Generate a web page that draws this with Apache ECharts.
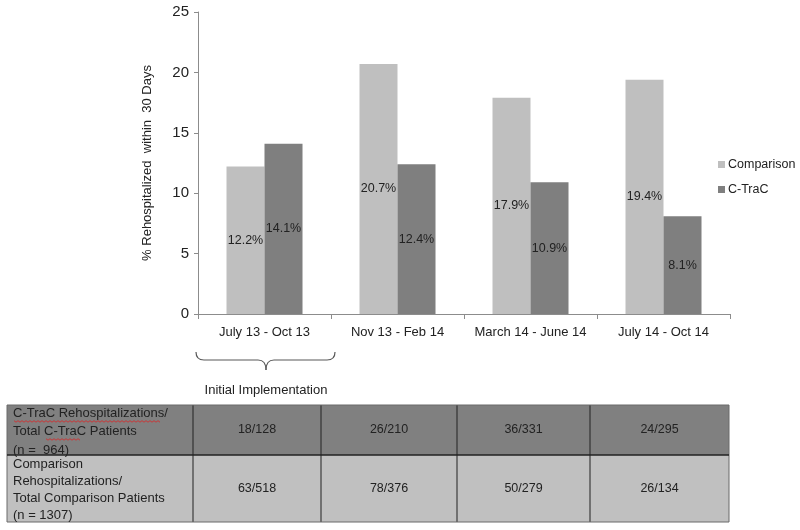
<!DOCTYPE html>
<html><head><meta charset="utf-8">
<script src="https://cdn.jsdelivr.net/npm/echarts@6/dist/echarts.min.js"></script>
<style>html,body{margin:0;padding:0;background:#fff}#c{width:800px;height:530px}</style>
</head><body><div id="c"></div>
<script>
var categories = ['July 13 - Oct 13', 'Nov 13 - Feb 14', 'March 14 - June 14', 'July 14 - Oct 14'];
var comparison = [12.2, 20.7, 17.9, 19.4];
var ctrac = [14.1, 12.4, 10.9, 8.1];
var yTicks = [0, 5, 10, 15, 20, 25];
var tableRowHeaders = ['C-TraC Rehospitalizations/\nTotal C-TraC Patients\n(n =  964)',
  'Comparison\nRehospitalizations/\nTotal Comparison Patients\n(n = 1307)'];
var ctracCounts = ['18/128', '26/210', '36/331', '24/295'];
var comparisonCounts = ['63/518', '78/376', '50/279', '26/134'];

var FONT = 'Liberation Sans, Arial, sans-serif';
var chart = echarts.init(document.getElementById('c'), null, {renderer: 'canvas'});

var colX = [7, 193, 321, 457, 590, 729];
var rowY = [405, 455, 522];
var rowFill = ['#808080', '#c0c0c0'];
var graphics = [];
for (var r = 0; r < 2; r++) {
  graphics.push({type: 'rect', shape: {x: colX[0], y: rowY[r], width: colX[5] - colX[0], height: rowY[r + 1] - rowY[r]},
    style: {fill: rowFill[r], stroke: 'none'}, silent: true});
}
for (var i = 0; i < colX.length; i++) {
  graphics.push({type: 'line', shape: {x1: colX[i], y1: rowY[0], x2: colX[i], y2: rowY[2]},
    style: {stroke: (i === 0 || i === 5) ? '#6a6a6a' : '#222', lineWidth: 1}, silent: true});
}
for (var j = 0; j < rowY.length; j++) {
  graphics.push({type: 'line', shape: {x1: colX[0], y1: rowY[j], x2: colX[5], y2: rowY[j]},
    style: {stroke: j === 1 ? '#222' : '#6a6a6a', lineWidth: j === 1 ? 1.5 : 1}, silent: true});
}
graphics.push({type: 'text', x: 13, y: 404, style: {text: tableRowHeaders[0], font: '13px ' + FONT, fill: '#222', lineHeight: 18.5, verticalAlign: 'top'}, silent: true});
graphics.push({type: 'text', x: 13, y: 456, style: {text: tableRowHeaders[1], font: '13px ' + FONT, fill: '#222', lineHeight: 17, verticalAlign: 'top'}, silent: true});
var counts = [ctracCounts, comparisonCounts];
for (var rr = 0; rr < 2; rr++) {
  for (var cc = 0; cc < 4; cc++) {
    graphics.push({type: 'text', x: (colX[cc + 1] + colX[cc + 2]) / 2, y: (rowY[rr] + rowY[rr + 1]) / 2,
      style: {text: counts[rr][cc], font: '12.5px ' + FONT, fill: '#222', align: 'center', verticalAlign: 'middle'}, silent: true});
  }
}
function squiggle(x1, x2, y) {
  var pts = [], k = 0;
  for (var x = x1; x <= x2; x += 2) { pts.push([x, y + (k % 2 ? 1.2 : -0.3)]); k++; }
  return {type: 'polyline', shape: {points: pts}, style: {stroke: '#d03030', lineWidth: 0.9, fill: 'none'}, silent: true};
}
graphics.push(squiggle(14, 160, 421));
graphics.push(squiggle(46, 81, 439));
var braceStyle = {stroke: '#595959', lineWidth: 1.2, fill: 'none'};
function bz(x1, y1, cx, cy, x2, y2) {
  return {type: 'bezierCurve', shape: {x1: x1, y1: y1, cpx1: cx, cpy1: cy, x2: x2, y2: y2}, style: braceStyle, silent: true};
}
function ln(x1, y1, x2, y2) {
  return {type: 'line', shape: {x1: x1, y1: y1, x2: x2, y2: y2}, style: braceStyle, silent: true};
}
graphics.push(bz(196, 352, 196, 360, 204, 360));
graphics.push(ln(204, 360, 258, 360));
graphics.push(bz(258, 360, 266, 360, 266, 370));
graphics.push(bz(266, 370, 266, 360, 274, 360));
graphics.push(ln(274, 360, 327, 360));
graphics.push(bz(327, 360, 335, 360, 335, 352));
graphics.push({type: 'text', x: 266, y: 390, style: {text: 'Initial Implementation', font: '13px ' + FONT, fill: '#222', align: 'center', verticalAlign: 'middle'}, silent: true});

var labelCfg = {show: true, position: 'inside', color: '#222', fontSize: 12.5, fontFamily: FONT,
  formatter: function (p) { return p.value.toFixed(1) + '%'; }};

chart.setOption({
  animation: false,
  textStyle: {fontFamily: FONT},
  grid: {left: 198, right: 70, top: 12, bottom: 216, containLabel: false},
  legend: {orient: 'vertical', left: 713, top: 153, itemWidth: 7, itemHeight: 7, itemGap: 12, icon: 'rect',
    textStyle: {fontSize: 12.5, color: '#222', fontFamily: FONT, padding: [0, 0, 0, -2]},
    data: ['Comparison', 'C-TraC']},
  xAxis: {type: 'category', data: categories,
    axisLine: {lineStyle: {color: '#8c8c8c', width: 1}},
    axisTick: {show: true, length: 5, lineStyle: {color: '#8c8c8c'}},
    axisLabel: {interval: 0, fontSize: 13, color: '#222', margin: 12, fontFamily: FONT}},
  yAxis: {type: 'value', min: yTicks[0], max: yTicks[yTicks.length - 1], interval: 5,
    name: '% Rehospitalized  within  30 Days', nameLocation: 'middle', nameGap: 44,
    nameTextStyle: {fontSize: 13, color: '#222', fontFamily: FONT},
    axisLine: {show: true, lineStyle: {color: '#8c8c8c', width: 1}},
    axisTick: {show: true, length: 4, lineStyle: {color: '#8c8c8c'}},
    axisLabel: {fontSize: 15, color: '#222', margin: 9, fontFamily: FONT},
    splitLine: {show: false}},
  series: [
    {name: 'Comparison', type: 'bar', data: comparison, barWidth: 38, barGap: '0%',
      itemStyle: {color: '#bfbfbf'}, label: labelCfg},
    {name: 'C-TraC', type: 'bar', data: ctrac, barWidth: 38, barGap: '0%',
      itemStyle: {color: '#7f7f7f'}, label: labelCfg}
  ],
  graphic: graphics
});
</script></body></html>
